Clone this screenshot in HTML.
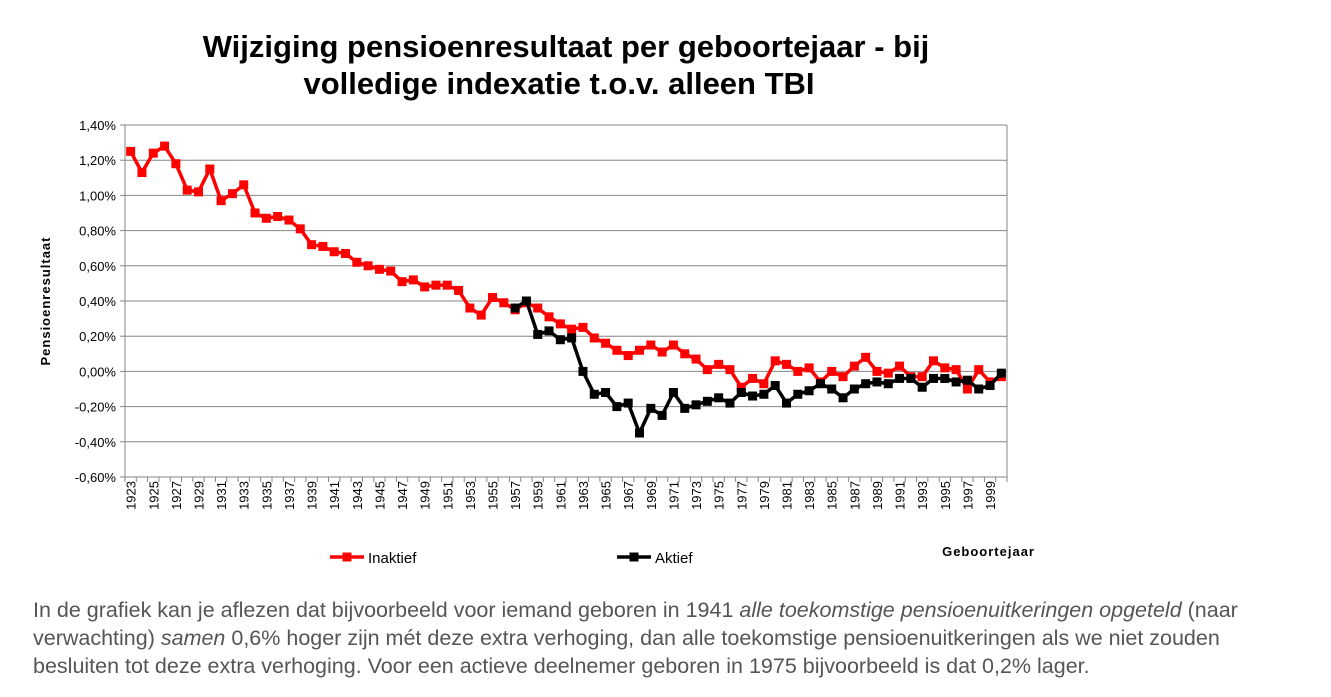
<!DOCTYPE html>
<html><head><meta charset="utf-8"><style>
body{margin:0;background:#fff;width:1331px;height:697px;overflow:hidden;font-family:"Liberation Sans",Arial,sans-serif}
#para{position:absolute;left:33px;top:596px;width:1298px;font-size:21.5px;line-height:28px;color:#555;white-space:nowrap}
</style></head><body>
<svg id="chart" width="1331" height="590" style="position:absolute;left:0;top:0" font-family="Liberation Sans, Arial, sans-serif"></svg>
<div id="para">In de grafiek kan je aflezen dat bijvoorbeeld voor iemand geboren in 1941 <i>alle toekomstige pensioenuitkeringen opgeteld</i> (naar<br>verwachting) <i>samen</i> 0,6% hoger zijn mét deze extra verhoging, dan alle toekomstige pensioenuitkeringen als we niet zouden<br>besluiten tot deze extra verhoging. Voor een actieve deelnemer geboren in 1975 bijvoorbeeld is dat 0,2% lager.</div>
<script>
const startYear = 1923;
const inaktief = [1.25,1.13,1.24,1.28,1.18,1.03,1.02,1.15,0.97,1.01,1.06,0.90,0.87,0.88,0.86,0.81,0.72,0.71,0.68,0.67,0.62,0.60,0.58,0.57,0.51,0.52,0.48,0.49,0.49,0.46,0.36,0.32,0.42,0.39,0.35,0.39,0.36,0.31,0.27,0.24,0.25,0.19,0.16,0.12,0.09,0.12,0.15,0.11,0.15,0.10,0.07,0.01,0.04,0.01,-0.09,-0.04,-0.07,0.06,0.04,0.00,0.02,-0.06,0.00,-0.03,0.03,0.08,0.00,-0.01,0.03,-0.03,-0.03,0.06,0.02,0.01,-0.10,0.01,-0.06,-0.03];
const aktiefStart = 1957;
const aktief = [0.36,0.40,0.21,0.23,0.18,0.19,0.00,-0.13,-0.12,-0.20,-0.18,-0.35,-0.21,-0.25,-0.12,-0.21,-0.19,-0.17,-0.15,-0.18,-0.12,-0.14,-0.13,-0.08,-0.18,-0.13,-0.11,-0.07,-0.10,-0.15,-0.10,-0.07,-0.06,-0.07,-0.04,-0.04,-0.09,-0.04,-0.04,-0.06,-0.05,-0.10,-0.08,-0.01];
const yTicks = [1.4,1.2,1.0,0.8,0.6,0.4,0.2,0,-0.2,-0.4,-0.6];

const svg = document.getElementById('chart');
const NS = 'http://www.w3.org/2000/svg';
const L=125,R=1007,T=125,B=477,yMin=-0.6,yMax=1.4,nCat=78;
const band=(R-L)/nCat;
const x = y => L + (y - startYear + 0.5) * band;
const yS = v => B - (v - yMin) / (yMax - yMin) * (B - T);
function mk(tag, attrs, parent){const e=document.createElementNS(NS,tag);for(const k in attrs)e.setAttribute(k,attrs[k]);(parent||svg).appendChild(e);return e;}
const fmt = v => v.toFixed(2).replace('.',',') + '%';

let t=mk('text',{x:566,y:57,'text-anchor':'middle','font-size':'31','font-weight':'bold'});


t.textContent='Wijziging pensioenresultaat per geboortejaar - bij';
t=mk('text',{x:559,y:94,'text-anchor':'middle','font-size':'31','font-weight':'bold'});


t.textContent='volledige indexatie t.o.v. alleen TBI';

yTicks.forEach(v=>{
  const g=mk('line',{x1:L,x2:R,y1:yS(v),y2:yS(v),stroke:'#868686','stroke-width':1});
  
  
  mk('line',{x1:L-5,x2:L,y1:yS(v),y2:yS(v),stroke:'#868686'});
  const tl=mk('text',{x:L-9,y:yS(v)+5,'text-anchor':'end','font-size':'13'});
  
  
  tl.textContent=fmt(v);
});
mk('line',{x1:L,x2:L,y1:T,y2:B,stroke:'#868686'});
mk('line',{x1:R,x2:R,y1:T,y2:B,stroke:'#868686'});
for(let i=0;i<=nCat;i++){mk('line',{x1:L+i*band,x2:L+i*band,y1:B,y2:B+5,stroke:'#868686'});}
for(let i=0;i<nCat;i+=2){
  const yr=startYear+i;
  const tl=mk('text',{transform:`translate(${x(yr)+5},${B+4}) rotate(-90)`,'text-anchor':'end','font-size':'13'});
  
  
  tl.textContent=yr;
}
t=mk('text',{transform:`translate(50,${(T+B)/2}) rotate(-90)`,'text-anchor':'middle','font-size':'13','font-weight':'bold','letter-spacing':'1'});


t.textContent='Pensioenresultaat';
t=mk('text',{x:1035,y:556,'text-anchor':'end','font-size':'13','font-weight':'bold','letter-spacing':'1'});


t.textContent='Geboortejaar';

function series(vals,start,color,name){
  const pts=vals.map((v,i)=>x(start+i)+','+yS(v)).join(' ');
  const pl=mk('polyline',{points:pts,fill:'none',stroke:color,'stroke-width':3.5,'stroke-linejoin':'round'});
  
  
  vals.forEach((v,i)=>{
    const r=mk('rect',{x:x(start+i)-4.5,y:yS(v)-4.5,width:9,height:9,fill:color});
    
    
  });
}
series(inaktief,startYear,'#ff0000','inaktief');
series(aktief,aktiefStart,'#000000','aktief');

function legend(lx,color,label,name){
  const g=mk('g',{});
  
  
  mk('line',{x1:lx,x2:lx+34,y1:557,y2:557,stroke:color,'stroke-width':3.5},g);
  mk('rect',{x:lx+12.5,y:552.5,width:9,height:9,fill:color},g);
  const tx=mk('text',{x:lx+38,y:563,'font-size':'15'},g);tx.textContent=label;
}
legend(330,'#ff0000','Inaktief','inaktief');
legend(617,'#000000','Aktief','aktief');
</script>
</body></html>
